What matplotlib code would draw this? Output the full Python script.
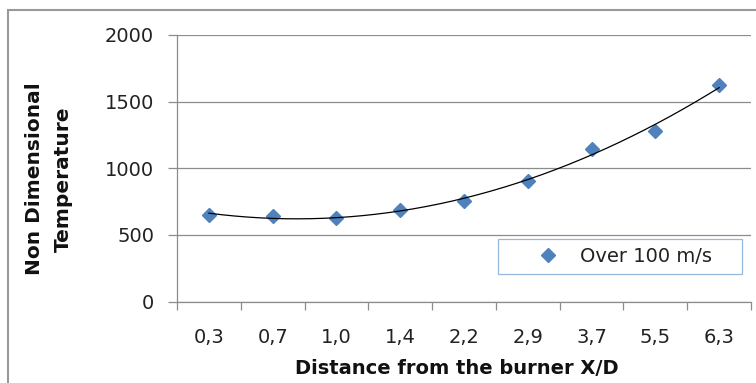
import numpy as np
import matplotlib
matplotlib.use('Agg')
from matplotlib import pyplot as plt
from matplotlib.patches import Rectangle

# data
distances = ['0,3', '0,7', '1,0', '1,4', '2,2', '2,9', '3,7', '5,5', '6,3']
temperature = [650, 640, 630, 690, 755, 905, 1145, 1280, 1625]
seriesName = 'Over 100 m/s'
yTicks = [0, 500, 1000, 1500, 2000]

W, H = 756, 383
gridColor = '#8c8c8c'
blue = '#4f81bd'

fig = plt.figure(figsize=(W / 100, H / 100), dpi=100)
ax = fig.add_axes([177 / W, 1 - 301.5 / H, 574 / W, 266.5 / H])

x = np.arange(1, len(distances) + 1)
ax.plot(x, temperature, linestyle='none', marker='D', markersize=7.5,
        color=blue, label=seriesName, zorder=3)

# excel style polynomial (order 2) trendline
coef = np.polyfit(x, temperature, 2)
xs = np.linspace(x[0], x[-1], 200)
ax.plot(xs, np.polyval(coef, xs), color='black', linewidth=0.9, zorder=4)

ax.set_xlim(0.5, len(distances) + 0.5)
ax.set_ylim(0, 2000)
ax.set_yticks(yTicks)
ax.set_yticklabels([str(v) for v in yTicks])

# ticks between categories, labels under categories
ax.set_xticks(np.arange(0.5, len(distances) + 1))
ax.set_xticklabels([])
ax.set_xticks(x, minor=True)
ax.set_xticklabels(distances, minor=True)
ax.tick_params(axis='x', which='major', length=5.5, color=gridColor, width=0.9)
ax.tick_params(axis='x', which='minor', length=0, pad=19, labelsize=14, labelcolor='#222222')
ax.tick_params(axis='y', length=6.5, color=gridColor, width=0.9, pad=10,
               labelsize=14, labelcolor='#222222')

ax.yaxis.grid(True, color=gridColor, linewidth=0.9)
ax.set_axisbelow(True)
for side in ['top', 'right']:
    ax.spines[side].set_visible(False)
for side in ['left', 'bottom']:
    ax.spines[side].set_color(gridColor)
    ax.spines[side].set_linewidth(0.9)

leg = ax.legend(loc='lower left', bbox_to_anchor=(0.559, 0.103, 0.425, 0.139),
                mode='expand', fontsize=14, fancybox=False, borderpad=0.4,
                handlelength=4.4, handletextpad=-0.6, borderaxespad=0)
leg.get_frame().set_edgecolor('#7fa6d6')
leg.get_frame().set_linewidth(0.9)
for t in leg.get_texts():
    t.set_color('#222222')

fig.text(456.5 / W, 1 - 368 / H, 'Distance from the burner X/D', ha='center',
         va='center', fontsize=14, fontweight='bold', color='#111111')
fig.text(49 / W, 1 - 179 / H, 'Non Dimensional\nTemperature', ha='center',
         va='center', rotation=90, multialignment='center', linespacing=1.65,
         fontsize=14.5, fontweight='bold', color='#111111')

# outer chart border (cut at right and bottom in the reference)
fig.patches.append(Rectangle((8 / W, -0.2), 1.5, 1.2 - 10 / H,
                             transform=fig.transFigure, fill=False,
                             edgecolor='#999999', linewidth=1.5))

fig.savefig('out.png', dpi=100)
